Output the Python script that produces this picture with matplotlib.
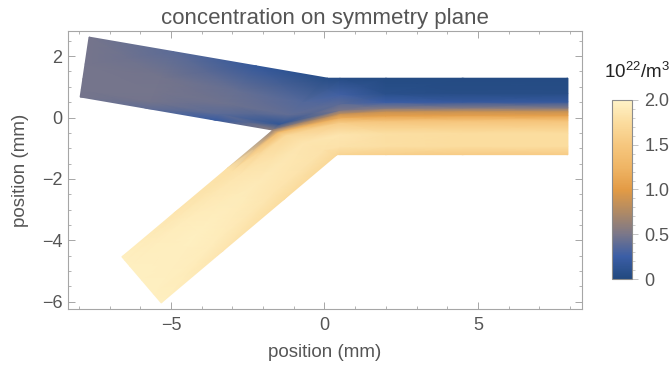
import numpy as np
import matplotlib
matplotlib.use("Agg")
import matplotlib.pyplot as plt
from matplotlib.colors import LinearSegmentedColormap
from matplotlib.ticker import MultipleLocator

plt.rcParams["font.family"] = ["Liberation Sans", "DejaVu Sans"]
plt.rcParams["mathtext.fontset"] = "custom"
plt.rcParams["mathtext.rm"] = "Liberation Sans"

# channel outline (mm)
upper_end = [(-7.96, 0.67), (-7.67, 2.62)]     # inlet mouth: bottom wall, top wall
lower_end = [(-5.32, -6.04), (-6.60, -4.54)]   # inlet mouth: bottom wall, top wall
junction = (-1.68, -0.41)
outlet_corner_top = (0.11, 1.28)
outlet_corner_bot = (0.41, -1.21)
outlet_top = 1.28
outlet_bot = -1.21

# sampling stations
inlet_s = [0.0, 0.35, 0.7, 1.0]           # fraction along each inlet arm
outlet_x = [0.5, 2.0, 4.5, 7.93]          # mm
interface_y = [0.10, 0.17, 0.18, 0.18]    # mm, where the two streams meet
upper_rows = [0.0, 0.12, 0.3, 0.55, 1.0]
lower_rows = [0.0, 0.2, 0.5, 0.8, 0.92, 1.0]

# concentration (10^22 / m^3); rows bottom -> top, columns upstream -> downstream
conc_upper = [
    [0.48, 0.40, 0.22, 0.60, 0.85, 0.88, 0.88, 0.88],
    [0.48, 0.47, 0.38, 0.15, 0.50, 0.55, 0.55, 0.55],
    [0.48, 0.48, 0.45, 0.40, 0.38, 0.25, 0.20, 0.20],
    [0.48, 0.47, 0.42, 0.35, 0.28, 0.08, 0.05, 0.05],
    [0.48, 0.38, 0.18, 0.06, 0.05, 0.03, 0.03, 0.03],
]
conc_lower = [
    [1.95, 1.85, 1.75, 1.70, 1.65, 1.60, 1.55, 1.55],
    [1.95, 1.92, 1.85, 1.82, 1.82, 1.78, 1.75, 1.75],
    [1.95, 1.95, 1.90, 1.85, 1.85, 1.78, 1.75, 1.75],
    [1.95, 1.92, 1.85, 1.70, 1.55, 1.45, 1.45, 1.45],
    [1.95, 1.88, 1.80, 1.30, 1.15, 1.05, 1.05, 1.05],
    [1.95, 1.85, 1.80, 0.60, 0.88, 0.88, 0.88, 0.88],
]

cbar_ticks = [0, 0.5, 1.0, 1.5, 2.0]
cbar_labels = ["0", "0.5", "1.0", "1.5", "2.0"]

cmap = LinearSegmentedColormap.from_list("conc", [
    (0.0, "#22497f"), (0.125, "#3b5ea6"), (0.25, "#7b7789"),
    (0.375, "#b08a64"), (0.5, "#e39b45"), (0.625, "#efb565"),
    (0.75, "#f6c77e"), (0.875, "#fbdc9e"), (1.0, "#fff3c8")])


def arm_mesh(mouth_bot, mouth_top, join_bot, join_top, rows, upper):
    """Node grid for one stream: inlet arm followed by its half of the outlet."""
    rows = np.asarray(rows)
    xs, ys = [], []
    for s in inlet_s:
        b = (1 - s) * np.array(mouth_bot) + s * np.array(join_bot)
        t = (1 - s) * np.array(mouth_top) + s * np.array(join_top)
        xs.append(b[0] + rows * (t[0] - b[0]))
        ys.append(b[1] + rows * (t[1] - b[1]))
    for x, yi in zip(outlet_x, interface_y):
        lo, hi = (yi, outlet_top) if upper else (outlet_bot, yi)
        xs.append(np.full_like(rows, x))
        ys.append(lo + rows * (hi - lo))
    return np.array(xs).T, np.array(ys).T


fig = plt.figure(figsize=(6.7, 3.7), dpi=100)
ax = fig.add_axes([68 / 670, 1 - 309 / 370, 514 / 670, 278 / 370])

Xu, Yu = arm_mesh(upper_end[0], upper_end[1], junction, outlet_corner_top, upper_rows, True)
Xl, Yl = arm_mesh(lower_end[0], lower_end[1], outlet_corner_bot, junction, lower_rows, False)
for X, Y, C in [(Xu, Yu, conc_upper), (Xl, Yl, conc_lower)]:
    pm = ax.pcolormesh(X, Y, np.array(C), shading="gouraud", cmap=cmap,
                       vmin=0, vmax=2, antialiased=True, linewidth=0)

ax.set_xlim(-8.355, 8.388)
ax.set_ylim(-6.238, 2.818)
ax.set_aspect("auto")

frame = "#a6a6a6"
for sp in ax.spines.values():
    sp.set_color(frame)
    sp.set_linewidth(0.8)
ax.xaxis.set_major_locator(MultipleLocator(5))
ax.xaxis.set_minor_locator(MultipleLocator(1))
ax.yaxis.set_major_locator(MultipleLocator(2))
ax.yaxis.set_minor_locator(MultipleLocator(0.5))
ax.tick_params(which="both", direction="in", top=True, right=True, color=frame,
               labelcolor="#555555", labelsize=13)
ax.tick_params(which="major", length=5, width=0.7)
ax.tick_params(which="minor", length=2.5, width=0.6)
ax.tick_params(axis="x", pad=6)
ax.tick_params(axis="y", pad=4)

ax.set_xlabel("position (mm)", fontsize=13.5, color="#555555", labelpad=7)
ax.set_ylabel("position (mm)", fontsize=13.5, color="#555555", labelpad=9)
ax.set_title("concentration on symmetry plane", fontsize=16, color="#555555", pad=5)

cax = fig.add_axes([612 / 670, 1 - 279 / 370, 20 / 670, 179 / 370])
cb = fig.colorbar(pm, cax=cax)
cb.outline.set_edgecolor("#8c8c8c")
cb.outline.set_linewidth(0.8)
cb.set_ticks(cbar_ticks)
cb.set_ticklabels(cbar_labels)
cax.yaxis.set_minor_locator(MultipleLocator(0.1))
cax.tick_params(which="both", direction="out", color="#bbbbbb", labelcolor="#555555",
                labelsize=13)
cax.tick_params(which="major", length=4, width=0.6, pad=5)
cax.tick_params(which="minor", length=2.5, width=0.5)
fig.text(604 / 670, 1 - 72 / 370, r"$10^{22}$/m$^3$", fontsize=13.5, color="#222222",
         va="center", ha="left")

fig.savefig("out.png", dpi=100)
